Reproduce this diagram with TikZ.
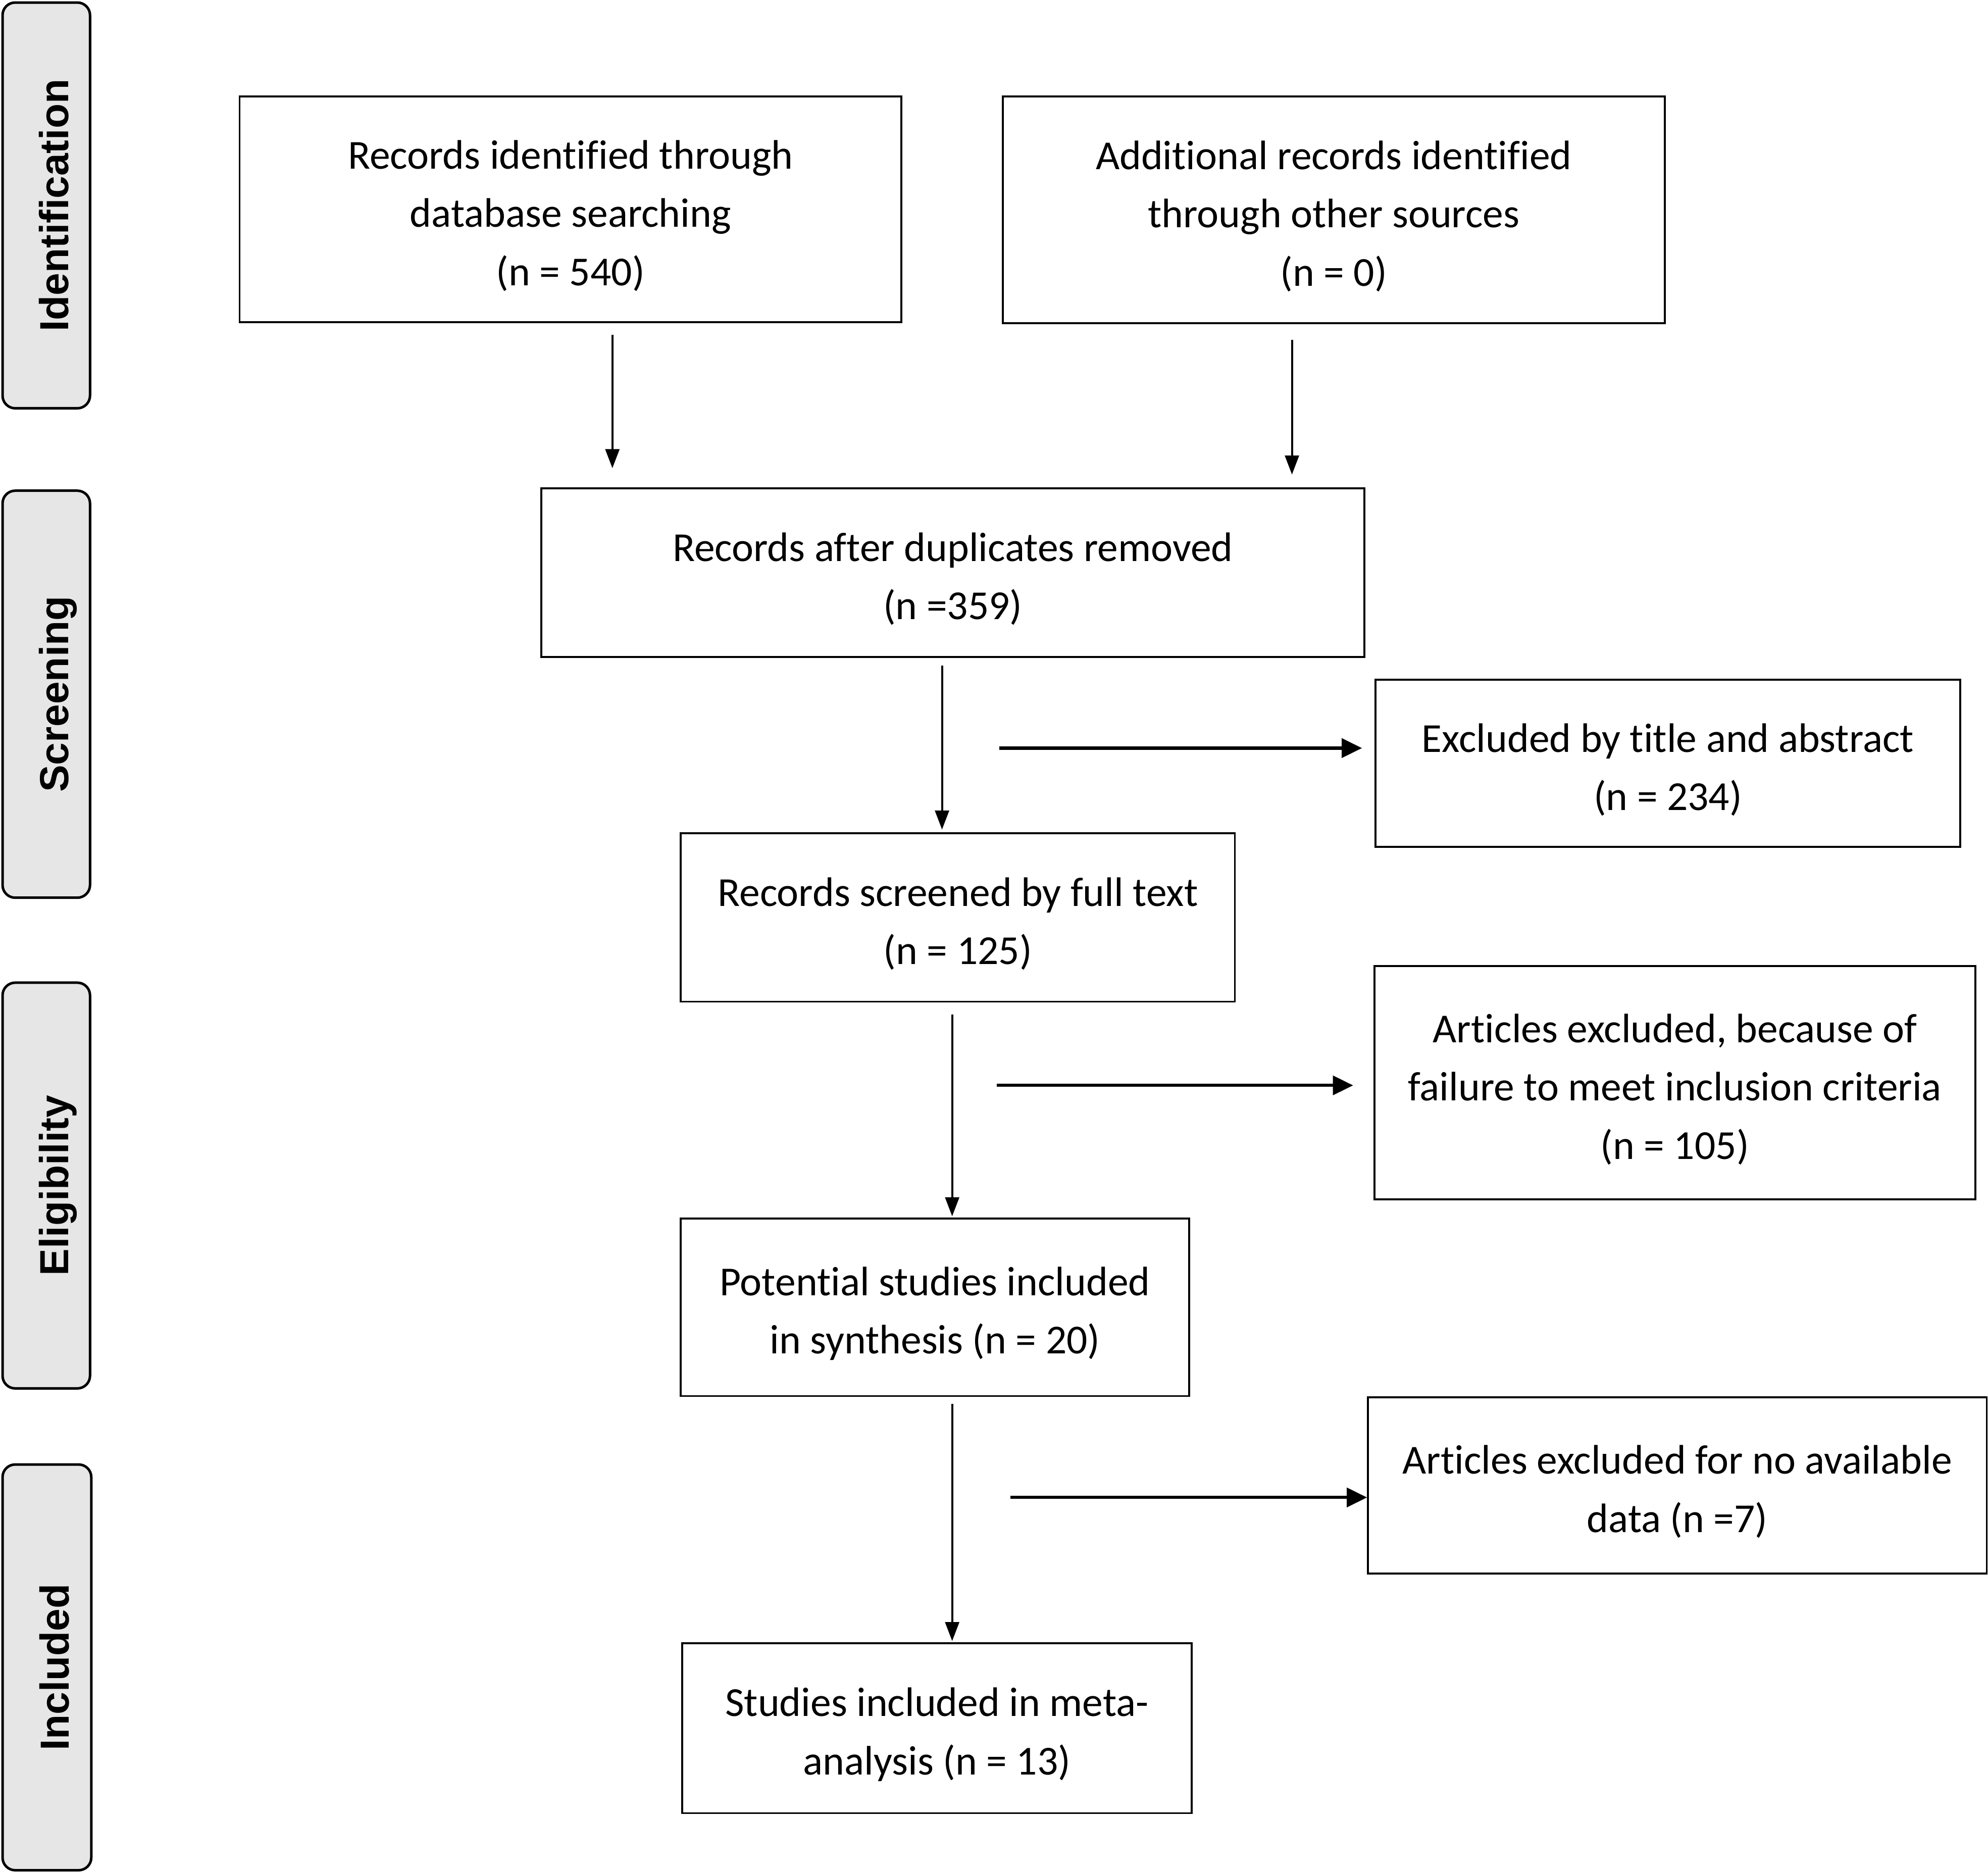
\documentclass[tikz,border=0pt]{standalone}
\usepackage{fontspec}
\setmainfont{Carlito}[Ligatures={NoCommon,NoDiscretionary,NoContextual}]
\newfontfamily\tabfont{Liberation Sans}
\usetikzlibrary{arrows.meta}
\definecolor{tabgray}{RGB}{230,230,230}
\begin{document}
\begin{tikzpicture}[x=1pt,y=-1pt,
  box/.style={draw, line width=1.5pt, rectangle, inner sep=0pt},
  txt/.style={align=center, font=\fontsize{32.5}{46}\selectfont, inner sep=0pt},
  tab/.style={draw, line width=2pt, fill=tabgray, rounded corners=10pt, inner sep=0pt},
  tablabel/.style={rotate=90, anchor=base, inner sep=0pt, font=\tabfont\bfseries\fontsize{32}{38}\selectfont},
  arr/.style={-{Triangle[length=15pt,width=11pt]}, line width=1.6pt},
  sidearr/.style={-{Triangle[length=16pt,width=15pt]}, line width=2.5pt}]
\useasboundingbox (0,0) rectangle (1568,1476.8);
\fill[white] (0,0) rectangle (1568,1476.8);

% stage tabs
\node[tab, minimum width=69pt, minimum height=320pt] (t1) at (36.5,162) {};
\node[tablabel] (l1) at (54,162) {Identification};
\node[tab, minimum width=69pt, minimum height=321pt] (t2) at (36.5,547.5) {};
\node[tablabel] (l2) at (54,547.5) {Screening};
\node[tab, minimum width=69pt, minimum height=320pt] (t3) at (36.5,935) {};
\node[tablabel] (l3) at (54,935) {Eligibility};
\node[tab, minimum width=70pt, minimum height=320pt] (t4) at (37,1315) {};
\node[tablabel] (l4) at (54.5,1315) {Included};

% boxes
\node[box, minimum width=522pt, minimum height=178pt] (b1) at (450,165) {};
\node[box, minimum width=522pt, minimum height=179pt] (b2) at (1052,165.5) {};
\node[box, minimum width=649pt, minimum height=133pt] (b3) at (751.5,451.5) {};
\node[box, minimum width=461pt, minimum height=132pt] (b4) at (1315.5,602) {};
\node[box, minimum width=437pt, minimum height=133pt] (b5) at (755.5,723.5) {};
\node[box, minimum width=474pt, minimum height=184pt] (b6) at (1321,854) {};
\node[box, minimum width=401pt, minimum height=140pt] (b7) at (737.5,1031) {};
\node[box, minimum width=488pt, minimum height=139pt] (b8) at (1323,1171.5) {};
\node[box, minimum width=402pt, minimum height=134pt] (b9) at (739,1363) {};

% box texts
\node[txt] (x1) at ([yshift=-5pt]b1.center) {Records identified through\\database searching\\(n = 540)};
\node[txt] (x2) at ([yshift=-5pt]b2.center) {Additional records identified\\through other sources\\(n = 0)};
\node[txt] (x3) at ([yshift=-5pt]b3.center) {Records after duplicates removed\\(n =359)};
\node[txt] (x4) at ([yshift=-5pt]b4.center) {Excluded by title and abstract\\(n = 234)};
\node[txt] (x5) at ([yshift=-5pt]b5.center) {Records screened by full text\\(n = 125)};
\node[txt] (x6) at ([yshift=-5pt]b6.center) {Articles excluded, because of\\failure to meet inclusion criteria\\(n = 105)};
\node[txt] (x7) at ([yshift=-5pt]b7.center) {Potential studies included\\in synthesis (n = 20)};
\node[txt] (x8) at ([yshift=-5pt]b8.center) {Articles excluded for no available\\data (n =7)};
\node[txt] (x9) at ([yshift=-5pt]b9.center) {Studies included in meta-\\analysis (n = 13)};

% arrow start points
\coordinate (s1) at (483,264);
\coordinate (s2) at (1019,268);
\coordinate (s3) at (743,525);
\coordinate (s4) at (751,800);
\coordinate (s5) at (751,1107);
\coordinate (h1) at (788,590);
\coordinate (h2) at (786,856);
\coordinate (h3) at (797,1181);

% vertical arrows
\draw[arr, shorten >=15pt] (s1) -- (s1 |- b3.north);
\draw[arr, shorten >=10pt] (s2) -- (s2 |- b3.north);
\draw[arr, shorten >=2pt] (s3) -- (s3 |- b5.north);
\draw[arr, shorten >=1pt] (s4) -- (s4 |- b7.north);
\draw[arr, shorten >=1pt] (s5) -- (s5 |- b9.north);

% side arrows
\draw[sidearr, shorten >=10pt] (h1) -- (h1 -| b4.west);
\draw[sidearr, shorten >=16pt] (h2) -- (h2 -| b6.west);
\draw[sidearr] (h3) -- (h3 -| b8.west);
\end{tikzpicture}
\end{document}
